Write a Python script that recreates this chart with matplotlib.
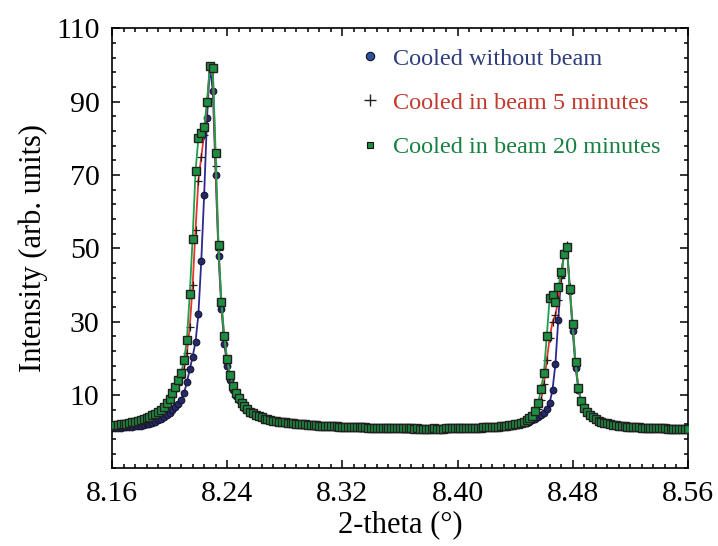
import numpy as np
import matplotlib
matplotlib.use("Agg")
import matplotlib.pyplot as plt
from matplotlib.lines import Line2D
from matplotlib.ticker import FixedLocator, MultipleLocator

plt.rcParams['font.family'] = ['Liberation Serif', 'DejaVu Serif']

# 2-theta sampling (deg), 0.002 step
two_theta = np.linspace(8.16, 8.56, 201)

# intensities, one row = 10 points (0.02 deg)
no_beam = [
    0.9, 1.0, 1.0, 1.1, 1.2, 1.3, 1.4, 1.4, 1.5, 1.6,
    1.7, 1.9, 2.0, 2.2, 2.5, 2.8, 3.1, 3.5, 4.0, 4.6,
    5.2, 5.9, 6.7, 7.6, 8.8, 10.5, 13.5, 17.0, 20.5, 24.5,
    32.0, 46.5, 64.5, 85.5, 99.5, 93.0, 70.0, 48.0, 33.5, 24.0,
    18.0, 14.0, 11.4, 9.8, 8.6, 7.5, 6.6, 5.9, 5.3, 4.8,
    4.5, 4.1, 3.8, 3.5, 3.3, 3.1, 2.9, 2.8, 2.7, 2.6,
    2.5, 2.4, 2.3, 2.2, 2.1, 2.0, 1.9, 1.9, 1.8, 1.8,
    1.7, 1.7, 1.6, 1.6, 1.5, 1.5, 1.5, 1.4, 1.4, 1.4,
    1.3, 1.3, 1.3, 1.2, 1.2, 1.2, 1.1, 1.1, 1.1, 1.1,
    1.0, 1.0, 1.0, 1.0, 1.0, 0.9, 0.9, 0.9, 0.9, 0.9,
    0.9, 0.8, 0.8, 0.8, 0.8, 0.8, 0.8, 0.8, 0.8, 0.8,
    0.8, 0.8, 0.8, 0.8, 0.8, 0.8, 0.8, 0.8, 0.9, 0.9,
    0.9, 0.9, 0.9, 1.0, 1.0, 1.0, 1.0, 1.1, 1.1, 1.1,
    1.2, 1.2, 1.3, 1.3, 1.4, 1.4, 1.5, 1.6, 1.6, 1.7,
    1.8, 1.9, 2.1, 2.3, 2.5, 2.8, 3.1, 3.5, 4.0, 4.6,
    5.2, 6.3, 7.9, 11.5, 18.5, 30.5, 42.7, 48.5, 50.5, 38.5,
    27.5, 17.5, 11.5, 8.0, 6.3, 5.2, 4.4, 3.8, 3.3, 2.9,
    2.6, 2.4, 2.2, 2.0, 1.9, 1.7, 1.6, 1.5, 1.4, 1.3,
    1.3, 1.2, 1.2, 1.1, 1.1, 1.0, 1.0, 1.0, 0.9, 0.9,
    0.9, 0.8, 0.8, 0.8, 0.8, 0.8, 0.7, 0.7, 0.7, 0.7,
    0.7,
]

beam_5min = [
    1.5, 1.6, 1.7, 1.8, 1.9, 2.0, 2.2, 2.3, 2.5, 2.7,
    2.9, 3.2, 3.5, 3.8, 4.1, 4.5, 5.0, 5.5, 6.2, 7.0,
    8.1, 9.5, 11.0, 12.8, 14.6, 17.0, 21.5, 28.5, 40.0, 55.0,
    68.5, 75.0, 81.0, 89.5, 99.8, 98.5, 72.5, 49.5, 35.0, 25.5,
    19.4, 15.2, 12.2, 10.3, 9.0, 7.9, 6.9, 6.1, 5.5, 5.0,
    4.6, 4.2, 3.9, 3.6, 3.4, 3.2, 3.0, 2.9, 2.8, 2.7,
    2.6, 2.5, 2.4, 2.3, 2.2, 2.1, 2.0, 2.0, 1.9, 1.9,
    1.8, 1.8, 1.7, 1.7, 1.6, 1.6, 1.5, 1.5, 1.5, 1.4,
    1.4, 1.4, 1.3, 1.3, 1.3, 1.2, 1.2, 1.2, 1.2, 1.1,
    1.1, 1.1, 1.1, 1.0, 1.0, 1.0, 1.0, 1.0, 0.9, 0.9,
    0.9, 0.9, 0.9, 0.9, 0.9, 0.8, 0.9, 0.8, 0.8, 0.8,
    0.8, 0.8, 0.9, 0.8, 0.8, 0.8, 0.9, 0.9, 0.9, 0.9,
    0.9, 0.9, 1.0, 1.0, 1.0, 1.0, 1.1, 1.1, 1.1, 1.2,
    1.2, 1.3, 1.3, 1.4, 1.4, 1.5, 1.6, 1.7, 1.7, 1.8,
    1.9, 2.1, 2.3, 2.6, 2.9, 3.3, 3.9, 4.7, 6.2, 8.6,
    13.0, 19.5, 25.5, 30.0, 31.8, 36.0, 42.0, 48.5, 51.0, 39.5,
    29.0, 18.5, 12.0, 8.2, 6.4, 5.3, 4.5, 3.9, 3.4, 3.0,
    2.7, 2.5, 2.3, 2.1, 1.9, 1.8, 1.7, 1.6, 1.5, 1.4,
    1.3, 1.3, 1.2, 1.2, 1.1, 1.1, 1.0, 1.0, 1.0, 0.9,
    0.9, 0.9, 0.9, 0.8, 0.8, 0.8, 0.8, 0.8, 0.7, 0.7,
    0.7,
]

beam_20min = [
    1.7, 1.8, 1.9, 2.0, 2.1, 2.2, 2.4, 2.6, 2.8, 3.0,
    3.2, 3.5, 3.8, 4.1, 4.5, 4.9, 5.4, 6.0, 6.8, 7.8,
    9.0, 10.5, 12.2, 14.0, 16.0, 19.5, 25.0, 37.5, 52.7, 71.0,
    80.0, 81.5, 83.0, 90.0, 99.8, 99.3, 76.0, 51.0, 35.5, 26.0,
    19.8, 15.5, 12.4, 10.5, 9.2, 7.9, 6.9, 6.1, 5.5, 5.0,
    4.6, 4.2, 3.9, 3.6, 3.4, 3.2, 3.0, 2.9, 2.8, 2.7,
    2.6, 2.5, 2.4, 2.3, 2.2, 2.1, 2.0, 2.0, 1.9, 1.9,
    1.8, 1.8, 1.7, 1.7, 1.6, 1.6, 1.5, 1.5, 1.5, 1.4,
    1.4, 1.4, 1.3, 1.3, 1.3, 1.2, 1.2, 1.2, 1.2, 1.1,
    1.1, 1.1, 1.1, 1.0, 1.0, 1.0, 1.0, 1.0, 0.9, 0.9,
    0.9, 0.9, 0.9, 0.9, 0.9, 0.8, 0.9, 0.8, 0.8, 0.8,
    0.8, 0.8, 0.9, 0.8, 0.8, 0.8, 0.9, 0.9, 0.9, 0.9,
    0.9, 0.9, 1.0, 1.0, 1.0, 1.0, 1.1, 1.1, 1.1, 1.2,
    1.2, 1.3, 1.3, 1.4, 1.4, 1.5, 1.6, 1.7, 1.8, 1.9,
    2.0, 2.2, 2.5, 2.8, 3.2, 3.7, 4.4, 5.6, 7.8, 11.8,
    16.0, 26.0, 36.5, 37.3, 35.5, 39.5, 43.5, 48.5, 50.3, 39.0,
    29.5, 19.0, 12.0, 8.3, 6.5, 5.3, 4.5, 3.9, 3.4, 3.0,
    2.7, 2.5, 2.3, 2.1, 1.9, 1.8, 1.7, 1.6, 1.5, 1.4,
    1.3, 1.3, 1.2, 1.2, 1.1, 1.1, 1.0, 1.0, 1.0, 0.9,
    0.9, 0.9, 0.9, 0.8, 0.8, 0.8, 0.8, 0.8, 0.7, 0.7,
    0.7,
]

labels = ["Cooled without beam", "Cooled in beam 5 minutes", "Cooled in beam 20 minutes"]
text_colors = ["#2e3d7c", "#c23a2e", "#188040"]

x_ticks = [8.16, 8.24, 8.32, 8.40, 8.48, 8.56]
y_ticks = [10, 30, 50, 70, 90, 110]

fig = plt.figure(figsize=(7.18, 5.46), dpi=100)
ax = fig.add_axes([0.156, 0.142, 0.802, 0.806])

ax.plot(two_theta, no_beam, color="#2c2a8c", lw=1.3, marker="o", ms=4.8,
        mfc="#23296a", mec="#151530", mew=0.8, zorder=2)
ax.plot(two_theta, beam_5min, color="#e8322a", lw=1.3, marker="+", ms=5.5,
        mec="#2a1a1a", mew=0.9, zorder=3)
ax.plot(two_theta, beam_20min, color="#1ca04c", lw=1.3, marker="s", ms=5.2,
        mfc="#1e8e40", mec="#202020", mew=1.0, zorder=4)

ax.set_xlim(8.16, 8.56)
ax.set_ylim(-10, 110)
ax.set_xticks(x_ticks)
ax.set_xticklabels(["%.2f" % t for t in x_ticks])
ax.set_yticks(y_ticks)
ax.xaxis.set_minor_locator(MultipleLocator(0.008))
ax.yaxis.set_minor_locator(FixedLocator(np.arange(-10, 111, 4)))

ax.tick_params(which="both", direction="in", top=True, right=True, width=1.1)
ax.tick_params(which="major", length=6, labelsize=21.5, pad=9)
ax.tick_params(which="minor", length=3)
for s in ax.spines.values():
    s.set_linewidth(1.2)

ax.set_xlabel("2-theta (°)", fontsize=22, labelpad=2)
ax.set_ylabel("Intensity (arb. units)", fontsize=22, labelpad=6)

handles = [
    Line2D([], [], ls="none", marker="o", ms=6, mfc="#3050a0", mec="#111111", mew=0.8),
    Line2D([], [], ls="none", marker="+", ms=9, mec="#222222", mew=1.0),
    Line2D([], [], ls="none", marker="s", ms=5, mfc="#1e8e40", mec="#111111", mew=0.8),
]
leg = ax.legend(handles, labels, loc="upper left", bbox_to_anchor=(0.397, 0.995),
                frameon=False, fontsize=17.5, handlelength=1.0, handletextpad=0.45,
                labelspacing=0.92, borderaxespad=0.3)
for t, c in zip(leg.get_texts(), text_colors):
    t.set_color(c)

fig.savefig("out.png", dpi=100)
